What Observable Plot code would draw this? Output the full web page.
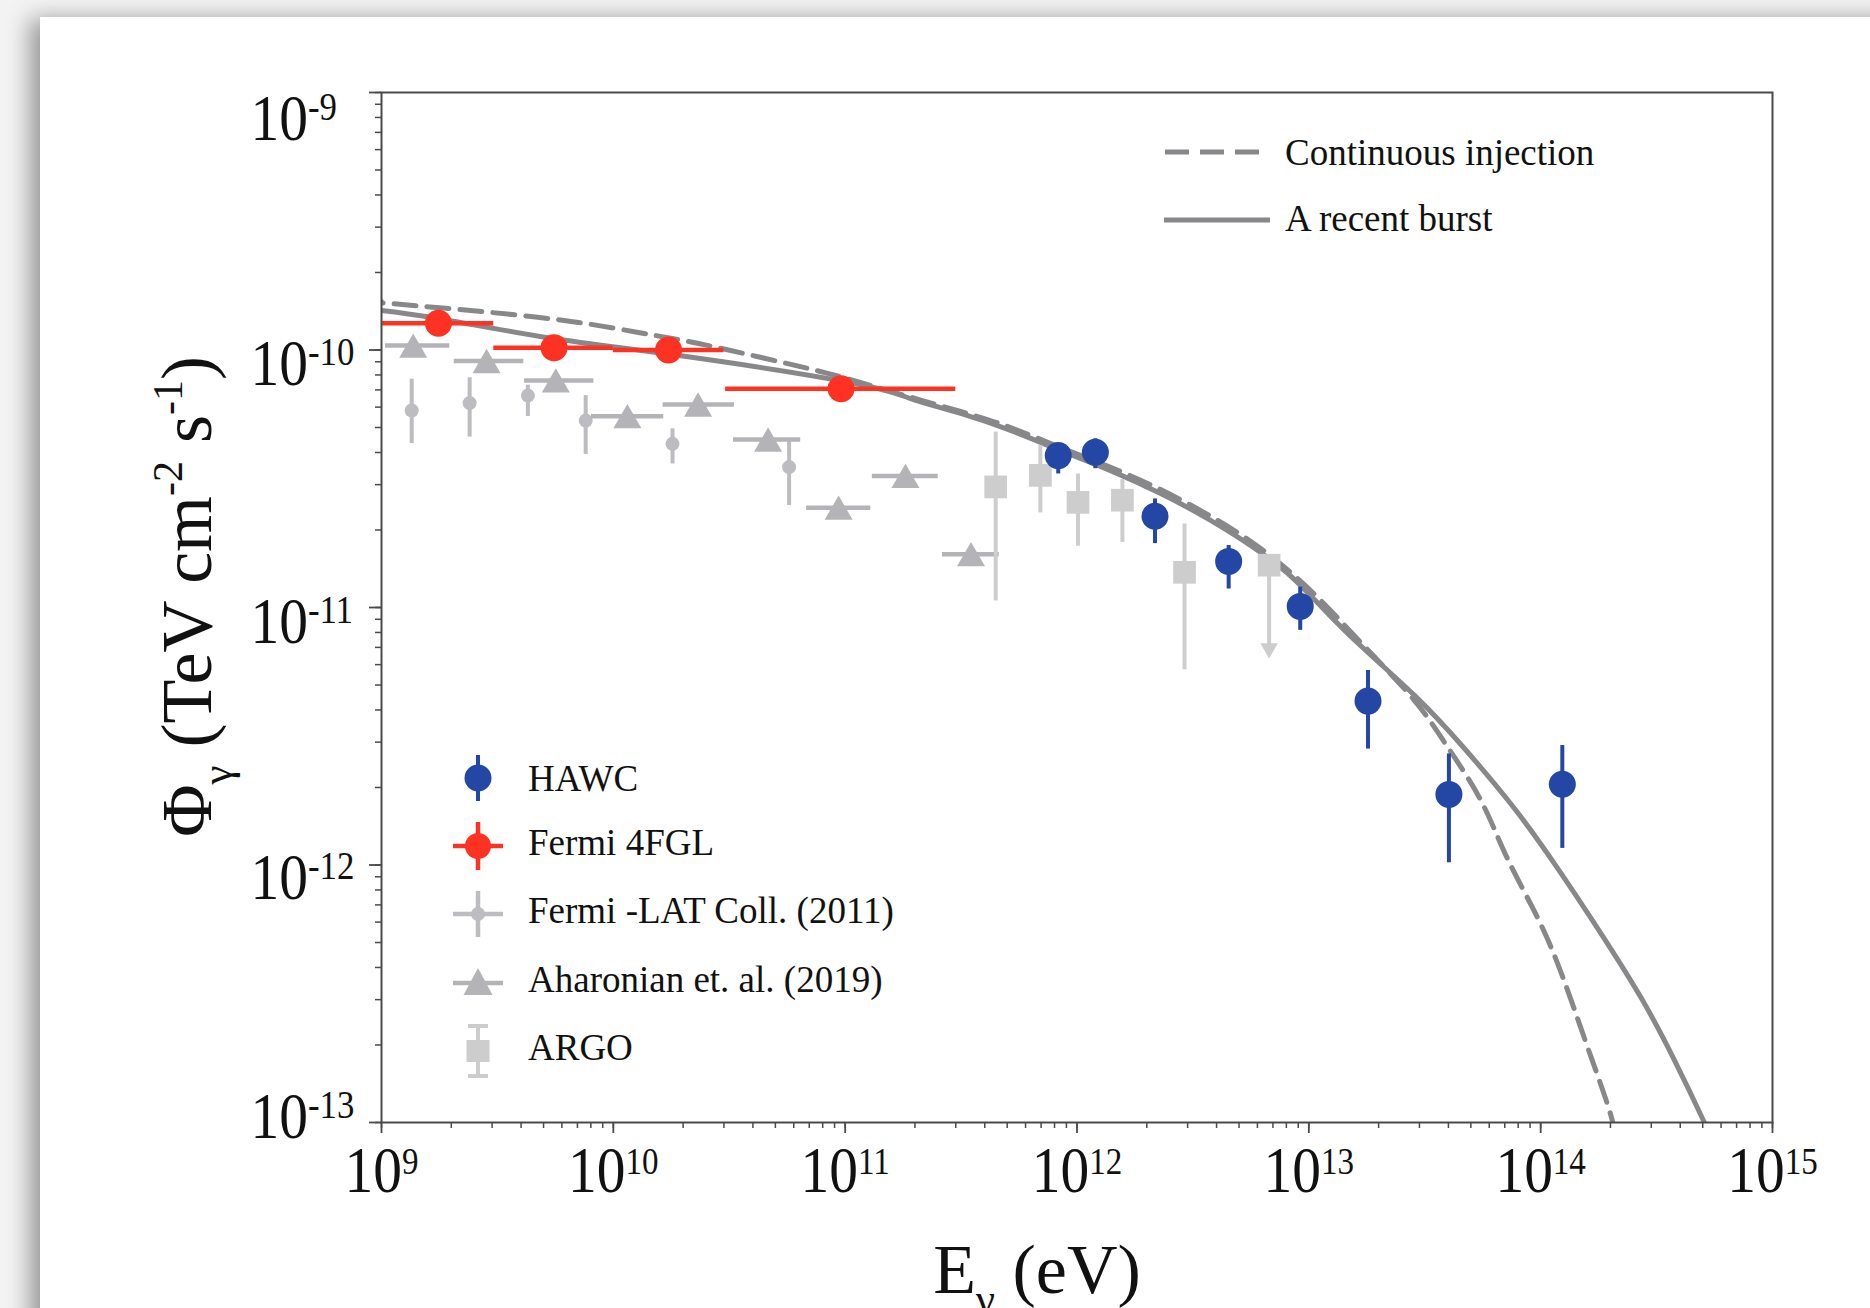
<!DOCTYPE html>
<html>
<head>
<meta charset="utf-8">
<script src="https://cdn.jsdelivr.net/npm/d3@7"></script>
<script src="https://cdn.jsdelivr.net/npm/@observablehq/plot@0.6"></script>
<style>
html, body { margin: 0; padding: 0; width: 1870px; height: 1308px; overflow: hidden; background: #f3f3f3; }
#card { position: absolute; left: 40px; top: 17px; width: 1900px; height: 1400px; background: #fff;
        box-shadow: -10px 2px 22px rgba(0,0,0,0.38); }
#chart { position: absolute; left: 0; top: 0; }
</style>
</head>
<body>
<div id="card"></div>
<div id="chart"></div>
<script>
// ---------- axis ticks ----------
const xTickVals = [1e9, 1e10, 1e11, 1e12, 1e13, 1e14, 1e15];
const xTickLabels = ["10^9", "10^10", "10^11", "10^12", "10^13", "10^14", "10^15"];
const yTickVals = [1e-9, 1e-10, 1e-11, 1e-12, 1e-13];
const yTickLabels = ["10^-9", "10^-10", "10^-11", "10^-12", "10^-13"];

// ---------- HAWC ----------
const hawcE  = [8.3e11, 1.2e12, 2.17e12, 4.51e12, 9.18e12, 1.80e13, 4.02e13, 1.24e14];
const hawcF  = [3.89e-11, 4.01e-11, 2.26e-11, 1.51e-11, 1.01e-11, 4.33e-12, 1.88e-12, 2.06e-12];
const hawcLo = [3.30e-11, 3.46e-11, 1.77e-11, 1.18e-11, 8.15e-12, 2.82e-12, 1.02e-12, 1.16e-12];
const hawcHi = [4.30e-11, 4.52e-11, 2.64e-11, 1.74e-11, 1.20e-11, 5.69e-12, 2.70e-12, 2.91e-12];

// ---------- Fermi 4FGL ----------
const fglE   = [1.76e9, 5.55e9, 1.73e10, 9.6e10];
const fglF   = [1.27e-10, 1.02e-10, 1.0e-10, 7.07e-11];
const fglElo = [1.0e9, 3.05e9, 1.0e10, 3.05e10];
const fglEhi = [3.05e9, 1.0e10, 3.0e10, 3.0e11];

// ---------- Fermi-LAT Coll. (2011) ----------
const latE  = [1.35e9, 2.40e9, 4.28e9, 7.6e9, 1.80e10, 5.73e10];
const latF  = [5.82e-11, 6.22e-11, 6.65e-11, 5.32e-11, 4.32e-11, 3.51e-11];
const latLo = [4.33e-11, 4.59e-11, 5.52e-11, 3.93e-11, 3.61e-11, 2.49e-11];
const latHi = [7.7e-11, 7.8e-11, 7.3e-11, 6.65e-11, 4.94e-11, 4.46e-11];

// ---------- Aharonian et al. (2019) ----------
const ahaE   = [1.37e9, 2.84e9, 5.65e9, 1.15e10, 2.32e10, 4.65e10, 9.37e10, 1.82e11, 3.49e11];
const ahaF   = [1.04e-10, 9.06e-11, 7.62e-11, 5.53e-11, 6.14e-11, 4.49e-11, 2.44e-11, 3.24e-11, 1.61e-11];
const ahaElo = [1.04e9, 2.06e9, 4.14e9, 8.05e9, 1.64e10, 3.30e10, 6.82e10, 1.31e11, 2.63e11];
const ahaEhi = [1.97e9, 4.11e9, 8.24e9, 1.65e10, 3.33e10, 6.43e10, 1.29e11, 2.52e11, 4.62e11];

// ---------- ARGO ----------
const argoE  = [4.46e11, 6.95e11, 1.01e12, 1.57e12, 2.91e12];
const argoF  = [2.94e-11, 3.26e-11, 2.56e-11, 2.61e-11, 1.37e-11];
const argoLo = [1.06e-11, 2.33e-11, 1.73e-11, 1.79e-11, 5.73e-12];
const argoHi = [4.80e-11, 4.26e-11, 3.30e-11, 3.14e-11, 2.11e-11];
const argoUlE  = [6.74e12];
const argoUlF  = [1.46e-11];
const argoUlTo = [6.4e-12];

// ---------- model curves ----------
const burstE = [1.0e9, 1.745e9, 5.52e9, 1.789e10, 1.0e11, 1.915e11, 3.147e11, 5.17e11, 8.50e11, 1.396e12,
                2.295e12, 3.77e12, 6.20e12, 9.22e12, 1.471e13, 2.833e13, 4.65e13, 7.65e13, 1.180e14,
                1.815e14, 2.70e14, 3.76e14, 5.07e14, 5.69e14];
const burstF = [1.423e-10, 1.325e-10, 1.108e-10, 9.60e-11, 7.54e-11, 6.48e-11, 5.67e-11, 4.87e-11, 4.07e-11, 3.40e-11,
                2.77e-11, 2.18e-11, 1.636e-11, 1.218e-11, 7.93e-12, 4.59e-12, 2.86e-12, 1.672e-12, 9.74e-13,
                5.44e-13, 3.07e-13, 1.76e-13, 1.005e-13, 7.9e-14];
const contE = [1.0e9, 1.094e9, 4.617e9, 1.247e10, 2.331e10, 4.535e10, 8.48e10, 1.421e11, 3.147e11, 5.17e11,
               8.50e11, 1.396e12, 2.295e12, 3.77e12, 6.20e12, 1.049e13, 1.723e13, 2.833e13, 3.97e13,
               5.51e13, 7.18e13, 9.83e13, 1.261e14, 1.575e14, 1.959e14, 2.128e14];
const contF = [1.542e-10, 1.515e-10, 1.343e-10, 1.175e-10, 1.060e-10, 9.27e-11, 8.10e-11, 7.09e-11, 5.77e-11, 5.00e-11,
               4.18e-11, 3.50e-11, 2.87e-11, 2.26e-11, 1.695e-11, 1.133e-11, 7.12e-12, 4.39e-12, 2.87e-12,
               1.789e-12, 1.062e-12, 6.09e-13, 3.56e-13, 2.02e-13, 1.147e-13, 8.51e-14];

const xTitle = [{t: "E", k: ""}, {t: "γ", k: "sub"}, {t: " (eV)", k: ""}];
const yTitle = [{t: "Φ", k: ""}, {t: "γ", k: "sub"}, {t: " (TeV cm", k: ""}, {t: "-2", k: "sup"},
                {t: " s", k: ""}, {t: "-1", k: "sup"}, {t: ")", k: ""}];

// ---------- tables ----------
const hawc = hawcE.map((E, i) => ({E, F: hawcF[i], lo: hawcLo[i], hi: hawcHi[i]}));
const fgl  = fglE.map((E, i) => ({E, F: fglF[i], e1: fglElo[i], e2: fglEhi[i]}));
const lat  = latE.map((E, i) => ({E, F: latF[i], lo: latLo[i], hi: latHi[i]}));
const aha  = ahaE.map((E, i) => ({E, F: ahaF[i], e1: ahaElo[i], e2: ahaEhi[i]}));
const argo = argoE.map((E, i) => ({E, F: argoF[i], lo: argoLo[i], hi: argoHi[i]}));
const argoUl = argoUlE.map((E, i) => ({E, F: argoUlF[i], to: argoUlTo[i]}));
const burst = burstE.map((E, i) => ({E, F: burstF[i]}));
const cont  = contE.map((E, i) => ({E, F: contF[i]}));

const BLUE = "#2447a5", RED = "#fe3222", TRI = "#b4b4b8", LAT = "#bcbcc1", ARGO = "#cdcdcd", CURVE = "#88888b";
const AX = "#4a4a4a";
const FONT = "Liberation Serif, Times New Roman, serif";

const yDy = [26, 14, 14, 13, -6];
const xTitleStr = xTitle.map(p => p.t).join("");
const yTitleStr = yTitle.map(p => p.t).join("");

const chart = Plot.plot({
  width: 1870, height: 1308,
  marginLeft: 381, marginRight: 98, marginTop: 92, marginBottom: 186,
  style: {background: "transparent", overflow: "visible", fontFamily: FONT, color: "#111"},
  x: {type: "log", domain: [1e9, 1e15], axis: null},
  y: {type: "log", domain: [1e-13, 1e-9], axis: null},
  marks: [
    // minor & major ticks
    Plot.axisX({ticks: 60, anchor: "bottom", tickSize: 6, tickFormat: () => "", label: null, stroke: AX, strokeWidth: 1.5}),
    Plot.axisX({ticks: xTickVals, anchor: "bottom", tickSize: 11, tickFormat: () => "", label: null, stroke: AX, strokeWidth: 1.8}),
    Plot.axisY({ticks: 30, anchor: "left", tickSize: 6, tickFormat: () => "", label: null, stroke: AX, strokeWidth: 1.5}),
    Plot.axisY({ticks: yTickVals, anchor: "left", tickSize: 12, tickFormat: () => "", label: null, stroke: AX, strokeWidth: 1.8}),
    // tick labels
    Plot.text(xTickVals, {x: d => d, text: (d, i) => "x" + xTickLabels[i], frameAnchor: "bottom", lineAnchor: "top",
      textAnchor: "middle", dy: 23, fontSize: 66}),
    ...yTickVals.map((v, i) => Plot.text([v], {y: d => d, text: () => "y" + yTickLabels[i], frameAnchor: "left",
      textAnchor: "start", dx: -131, dy: yDy[i], fontSize: 66})),
    // axis titles
    Plot.text([xTitleStr], {text: d => d, frameAnchor: "bottom", lineAnchor: "bottom", textAnchor: "middle",
      dx: -40, dy: 170, fontSize: 70}),
    Plot.text([yTitleStr], {text: d => d, frameAnchor: "left", rotate: -90, textAnchor: "middle", lineAnchor: "middle",
      dx: -194, dy: -11, fontSize: 72}),
    // model curves
    Plot.line(cont, {x: "E", y: "F", stroke: CURVE, strokeWidth: 5, strokeDasharray: "22,11", curve: "natural", clip: true}),
    Plot.line(burst, {x: "E", y: "F", stroke: CURVE, strokeWidth: 5, curve: "natural", clip: true}),
    // Fermi-LAT 2011
    Plot.ruleX(lat, {x: "E", y1: "lo", y2: "hi", stroke: LAT, strokeWidth: 4}),
    Plot.dot(lat, {x: "E", y: "F", r: 7, fill: LAT}),
    // Aharonian
    Plot.ruleY(aha, {y: "F", x1: "e1", x2: "e2", stroke: TRI, strokeWidth: 4.5, clip: true}),
    Plot.dot(aha, {x: "E", y: "F", r: 10.4, symbol: "triangle", fill: TRI, dy: 4}),
    // ARGO
    Plot.ruleX(argo, {x: "E", y1: "lo", y2: "hi", stroke: ARGO, strokeWidth: 4}),
    Plot.dot(argo, {x: "E", y: "F", r: 12.8, symbol: "square", fill: ARGO}),
    Plot.ruleX(argoUl, {x: "E", y1: "F", y2: "to", stroke: ARGO, strokeWidth: 4, dy: -8}),
    Plot.dot(argoUl, {x: "E", y: "F", r: 12.8, symbol: "square", fill: ARGO}),
    Plot.dot(argoUl, {x: "E", y: "to", r: 6.5, symbol: "triangle", rotate: 180, fill: ARGO, dy: -9}),
    // HAWC
    Plot.ruleX(hawc, {x: "E", y1: "lo", y2: "hi", stroke: BLUE, strokeWidth: 4}),
    Plot.dot(hawc, {x: "E", y: "F", r: 13.5, fill: BLUE}),
    // Fermi 4FGL
    Plot.ruleY(fgl, {y: "F", x1: "e1", x2: "e2", stroke: RED, strokeWidth: 4.5, clip: true}),
    Plot.dot(fgl, {x: "E", y: "F", r: 13.5, fill: RED}),
    // frame
    Plot.frame({stroke: AX, strokeWidth: 2})
  ]
});

document.getElementById("chart").appendChild(chart);
const svg = d3.select(chart);

// superscript tick labels (x: prefix "x", y: prefix "y")
svg.selectAll("text").filter(function () { return this.textContent.includes("^"); }).each(function () {
  const t = d3.select(this);
  const s = t.text();
  const isY = s[0] === "y";
  const [base, exp] = s.slice(1).split("^");
  t.text(null);
  t.append("tspan").text(base);
  t.append("tspan").attr("font-size", isY ? 40 : 38).attr("dy", isY ? -20 : -18).text(exp);
  t.attr("transform", (t.attr("transform") || "") + " scale(0.87,1)");
});

// titles with sub/superscripts
[[xTitleStr, xTitle], [yTitleStr, yTitle]].forEach(([str, parts]) => {
  svg.selectAll("text").filter(function () { return this.textContent === str; }).each(function () {
    const t = d3.select(this);
    t.text(null);
    let off = 0;
    parts.forEach(p => {
      const target = p.k === "sub" ? 20 : p.k === "sup" ? -29 : 0;
      const ts = t.append("tspan").text(p.t).attr("dy", target - off);
      if (p.k) ts.attr("font-size", p.k === "sub" ? 43 : 42);
      off = target;
    });
  });
});

// legends
const lg = svg.append("g").attr("font-family", FONT).attr("font-size", 37).attr("fill", "#111")
  .attr("text-anchor", "start");
lg.append("line").attr("x1", 1165).attr("x2", 1262).attr("y1", 152).attr("y2", 152)
  .attr("stroke", CURVE).attr("stroke-width", 5).attr("stroke-dasharray", "24,11");
lg.append("text").attr("x", 1285).attr("y", 165).text("Continuous injection");
lg.append("line").attr("x1", 1164).attr("x2", 1270).attr("y1", 220).attr("y2", 220)
  .attr("stroke", CURVE).attr("stroke-width", 5);
lg.append("text").attr("x", 1285).attr("y", 231).text("A recent burst");

const cx = 478;
const legRows = [
  {name: "HAWC", cy: 778, base: 791},
  {name: "Fermi 4FGL", cy: 846, base: 855},
  {name: "Fermi -LAT Coll. (2011)", cy: 914, base: 923},
  {name: "Aharonian et. al. (2019)", cy: 983, base: 992},
  {name: "ARGO", cy: 1051, base: 1060}
];
const line = (x1, y1, x2, y2, c, w) => lg.append("line").attr("x1", x1).attr("y1", y1).attr("x2", x2).attr("y2", y2)
  .attr("stroke", c).attr("stroke-width", w);
let r = legRows[0];
line(cx, r.cy - 23, cx, r.cy + 23, BLUE, 4);
lg.append("circle").attr("cx", cx).attr("cy", r.cy).attr("r", 13.5).attr("fill", BLUE);
r = legRows[1];
line(cx - 25, r.cy, cx + 25, r.cy, RED, 4.5);
line(cx, r.cy - 24, cx, r.cy + 24, RED, 4.5);
lg.append("circle").attr("cx", cx).attr("cy", r.cy).attr("r", 13).attr("fill", RED);
r = legRows[2];
line(cx - 25, r.cy, cx + 25, r.cy, LAT, 4.5);
line(cx, r.cy - 23, cx, r.cy + 23, LAT, 4.5);
lg.append("circle").attr("cx", cx).attr("cy", r.cy).attr("r", 7).attr("fill", LAT);
r = legRows[3];
line(cx - 25, r.cy, cx + 25, r.cy, TRI, 4.5);
lg.append("path").attr("d", `M${cx},${r.cy - 15}L${cx + 14.5},${r.cy + 12}L${cx - 14.5},${r.cy + 12}Z`).attr("fill", TRI);
r = legRows[4];
line(cx, r.cy - 25, cx, r.cy + 25, ARGO, 4);
line(cx - 10, r.cy - 25, cx + 10, r.cy - 25, ARGO, 4);
line(cx - 10, r.cy + 25, cx + 10, r.cy + 25, ARGO, 4);
lg.append("rect").attr("x", cx - 11.5).attr("y", r.cy - 11).attr("width", 23).attr("height", 22).attr("fill", ARGO);
legRows.forEach(row => lg.append("text").attr("x", 528).attr("y", row.base).text(row.name));
</script>
</body>
</html>
